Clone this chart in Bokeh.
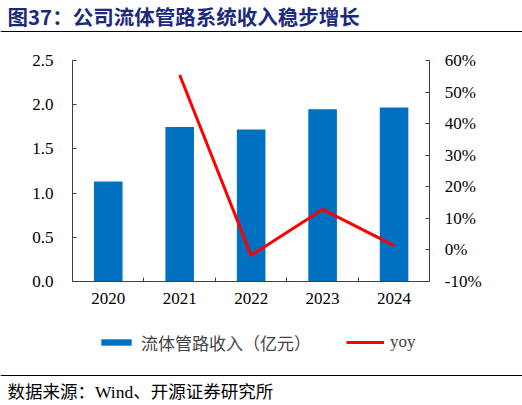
from bokeh.plotting import figure
from bokeh.models import (Range1d, LinearAxis, FixedTicker, NumeralTickFormatter,
                          PrintfTickFormatter, Legend, LegendItem, Label)
from bokeh.embed import file_html
from bokeh.resources import INLINE

# data
years = ["2020", "2021", "2022", "2023", "2024"]
revenue = [1.13, 1.75, 1.72, 1.95, 1.97]        # 亿元
yoy_years = ["2021", "2022", "2023", "2024"]
yoy = [55.5, -1.8, 12.8, 1.3]                      # %
rev_ticks = [0, 0.5, 1.0, 1.5, 2.0, 2.5]
yoy_ticks = [-10, 0, 10, 20, 30, 40, 50, 60]

title_text = "图37：公司流体管路系统收入稳步增长"
source_text = "数据来源：Wind、开源证券研究所"
bar_label = "流体管路收入（亿元）"
line_label = "yoy"

SERIF = "Liberation Serif, Noto Sans CJK SC"
CJK = "Noto Sans CJK SC"
AXIS_COLOR = "#404040"

W, H = 522, 405
# plot box inside the canvas (px): left, right, top, bottom
BL, BR, BT, BB = 72, 429.3, 60.3, 280.7
RULES_PX = [31, 375]   # rules under the title and above the source, px from top

xs = list(range(len(years)))
yoy_xs = [years.index(y) for y in yoy_years]

# ranges stretched so that the whole canvas is the frame
x0, x1 = -0.5, len(years) - 0.5
kx = (x1 - x0) / (BR - BL)
r0, r1 = rev_ticks[0], rev_ticks[-1]
ky = (r1 - r0) / (BB - BT)
g0, g1 = yoy_ticks[0], yoy_ticks[-1]
kg = (g1 - g0) / (BB - BT)

p = figure(width=W, height=H,
           x_range=Range1d(x0 - BL * kx, x1 + (W - BR) * kx),
           y_range=Range1d(r0 - (H - BB) * ky, r1 + BT * ky),
           toolbar_location=None, output_backend="svg", min_border=0,
           x_axis_type=None, y_axis_type=None)
p.extra_y_ranges = {"yoy": Range1d(g0 - (H - BB) * kg, g1 + BT * kg)}
p.grid.visible = False
p.outline_line_color = None

bars = p.vbar(x=xs, top=revenue, width=0.4, fill_color="#0070C0", line_color=None)
line = p.line(x=yoy_xs, y=yoy, y_range_name="yoy", line_color="#FF0000", line_width=3)

# horizontal rules of the page layout
p.hspan(y=[r1 + (BT - t) * ky for t in RULES_PX], line_color="black", line_width=1)

xa = LinearAxis(fixed_location=r0, bounds=(x0, x1),
                ticker=FixedTicker(ticks=xs, minor_ticks=[x + 0.5 for x in xs[:-1]]),
                major_label_overrides={x: y for x, y in zip(xs, years)})
xa.major_tick_line_color = None
xa.minor_tick_in = 4
xa.minor_tick_out = 0
xa.minor_tick_line_color = AXIS_COLOR
xa.major_label_standoff = 6
p.add_layout(xa, "below")

ya = LinearAxis(fixed_location=x0, bounds=(r0, r1), ticker=FixedTicker(ticks=rev_ticks),
                formatter=NumeralTickFormatter(format="0.0"))
ya.major_label_standoff = 19
p.add_layout(ya, "left")

ra = LinearAxis(y_range_name="yoy", fixed_location=x1, bounds=(g0, g1),
                ticker=FixedTicker(ticks=yoy_ticks), formatter=PrintfTickFormatter(format="%d%%"))
ra.major_label_standoff = 15
p.add_layout(ra, "right")

for ax in [xa, ya, ra]:
    ax.axis_line_color = AXIS_COLOR
    ax.major_label_text_font = SERIF
    ax.major_label_text_font_size = "17px"
    ax.major_label_text_color = "black"
for ax in [ya, ra]:
    ax.minor_tick_line_color = None
    ax.major_tick_in = 4
    ax.major_tick_out = 0
    ax.major_tick_line_color = AXIS_COLOR

legend = Legend(items=[LegendItem(label=bar_label, renderers=[bars]),
                       LegendItem(label=line_label, renderers=[line])],
                orientation="horizontal", location=(97, 50.5),
                border_line_color=None, background_fill_alpha=0,
                padding=0, margin=0, spacing=35, label_standoff=6,
                glyph_width=38, glyph_height=8,
                label_text_font=SERIF, label_text_font_size="17px")
p.add_layout(legend)

# title and source
p.add_layout(Label(x=7, y=389.5, x_units="screen", y_units="screen", text=title_text,
                   text_font=CJK, text_font_style="bold", text_font_size="20.5px",
                   text_color="#1c2a7c", text_baseline="middle"))
p.add_layout(Label(x=7, y=13.3, x_units="screen", y_units="screen", text=source_text,
                   text_font=SERIF, text_font_size="17.5px", text_color="black",
                   text_baseline="middle"))

open("out.html", "w").write(file_html(p, INLINE))
